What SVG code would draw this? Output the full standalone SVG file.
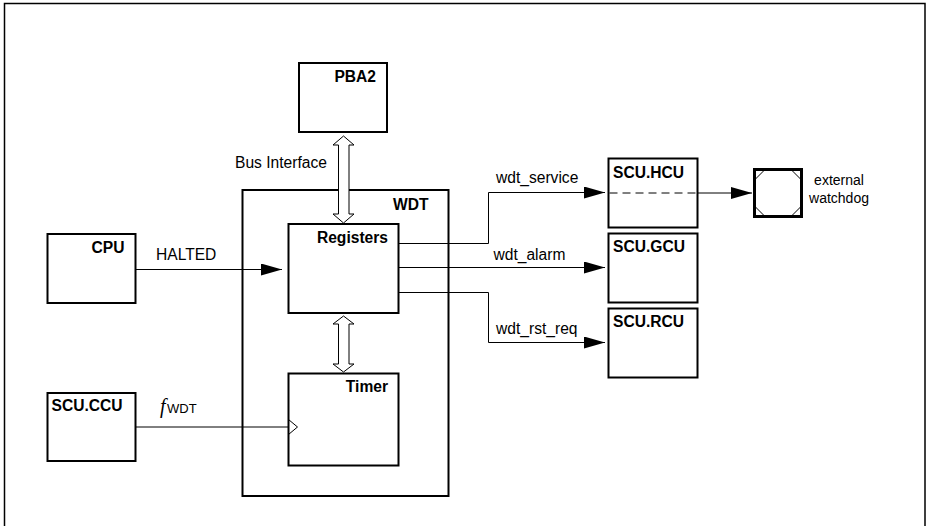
<svg xmlns="http://www.w3.org/2000/svg" width="927" height="526" viewBox="0 0 927 526">
<style>
.box{fill:#fff;stroke:#000;stroke-width:2}
.lbl{font-family:"Liberation Sans",Arial,sans-serif;font-size:15.6px;font-weight:bold;fill:#000}
.txt{font-family:"Liberation Sans",Arial,sans-serif;font-size:15.6px;fill:#000}
.wire{fill:none;stroke:#000;stroke-width:1}
.dbl{fill:#fff;stroke:#000;stroke-width:1}
</style>
<defs>
<marker id="arr" markerUnits="userSpaceOnUse" markerWidth="21" markerHeight="12" refX="21" refY="6" orient="auto">
<path d="M0,0 L21,6 L0,12 Z" fill="#000"/>
</marker>
</defs>
<rect x="0" y="0" width="927" height="526" fill="#fff"/>
<path d="M4.5,526 V3.5 H925 V526" fill="none" stroke="#000" stroke-width="1.5"/>

<g id="WDT">
<rect class="box" x="242.5" y="190" width="206" height="306"/>
<text class="lbl" x="428.5" y="210" text-anchor="end">WDT</text>
</g>
<g id="PBA2">
<rect class="box" x="299" y="63" width="88" height="69"/>
<text class="lbl" x="376" y="82" text-anchor="end">PBA2</text>
</g>
<g id="Registers">
<rect class="box" x="288.5" y="224" width="110" height="89"/>
<text class="lbl" x="388" y="243" text-anchor="end">Registers</text>
</g>
<g id="Timer">
<rect class="box" x="288.5" y="373.5" width="110" height="92"/>
<text class="lbl" x="388" y="392" text-anchor="end">Timer</text>
<polyline class="wire" points="288.5,419.5 297.5,427 288.5,434.5" stroke-width="1.4"/>
</g>
<g id="CPU">
<rect class="box" x="47.5" y="234" width="88" height="69"/>
<text class="lbl" x="124.5" y="252.5" text-anchor="end">CPU</text>
</g>
<g id="SCU_CCU">
<rect class="box" x="47.5" y="393" width="88" height="68"/>
<text class="lbl" x="51.5" y="411">SCU.CCU</text>
</g>
<g id="SCU_HCU">
<rect class="box" x="608.5" y="158.5" width="89" height="69"/>
<text class="lbl" x="613" y="177.5">SCU.HCU</text>
</g>
<g id="SCU_GCU">
<rect class="box" x="608.5" y="233.5" width="89" height="69"/>
<text class="lbl" x="613" y="252">SCU.GCU</text>
</g>
<g id="SCU_RCU">
<rect class="box" x="608.5" y="308.5" width="89" height="69"/>
<text class="lbl" x="613" y="327">SCU.RCU</text>
</g>
<g id="ExternalWatchdog">
<rect x="754.5" y="169.5" width="47" height="47" fill="#fff" stroke="#000" stroke-width="3"/>
<path class="wire" d="M764,170.5 L755.5,179 M792,170.5 L800.5,179 M755.5,207 L764,215.5 M800.5,207 L792,215.5" stroke-width="1.5"/>
<text class="txt" x="839" y="185" text-anchor="middle" style="font-size:14px">external</text>
<text class="txt" x="839" y="203" text-anchor="middle" style="font-size:14px">watchdog</text>
</g>

<g id="connectors">
<polygon class="dbl" points="343.5,136 354,145 349,145 349,214 354,214 343.5,223 333,214 338.5,214 338.5,145 333,145"/>
<polygon class="dbl" points="343.5,316 354,324 349,324 349,364 354,364 343.5,372 333,364 338.5,364 338.5,324 333,324"/>
<path class="wire" d="M135.5,269.5 H282" marker-end="url(#arr)"/>
<path class="wire" d="M135.5,427 H288.5" stroke="#333"/>
<path class="wire" d="M398.5,243.5 H488.5 V192.5 H605" marker-end="url(#arr)"/>
<path class="wire" d="M398.5,267.5 H605" marker-end="url(#arr)"/>
<path class="wire" d="M398.5,292.5 H488.5 V342.5 H605" marker-end="url(#arr)"/>
<path class="wire" d="M609.5,193 H697.5" stroke-width="2" stroke-dasharray="8 5"/>
<path class="wire" d="M697.5,193 H752" marker-end="url(#arr)"/>
<text class="txt" x="235" y="168">Bus Interface</text>
<text class="txt" x="156" y="260">HALTED</text>
<text class="txt" x="160" y="413"><tspan style="font-family:'Liberation Serif','Times New Roman',serif;font-style:italic;font-size:20px">f</tspan><tspan x="167" style="font-size:13px">WDT</tspan></text>
<text class="txt" x="496" y="183">wdt_service</text>
<text class="txt" x="493.5" y="260">wdt_alarm</text>
<text class="txt" x="496" y="334">wdt_rst_req</text>
</g>
</svg>
